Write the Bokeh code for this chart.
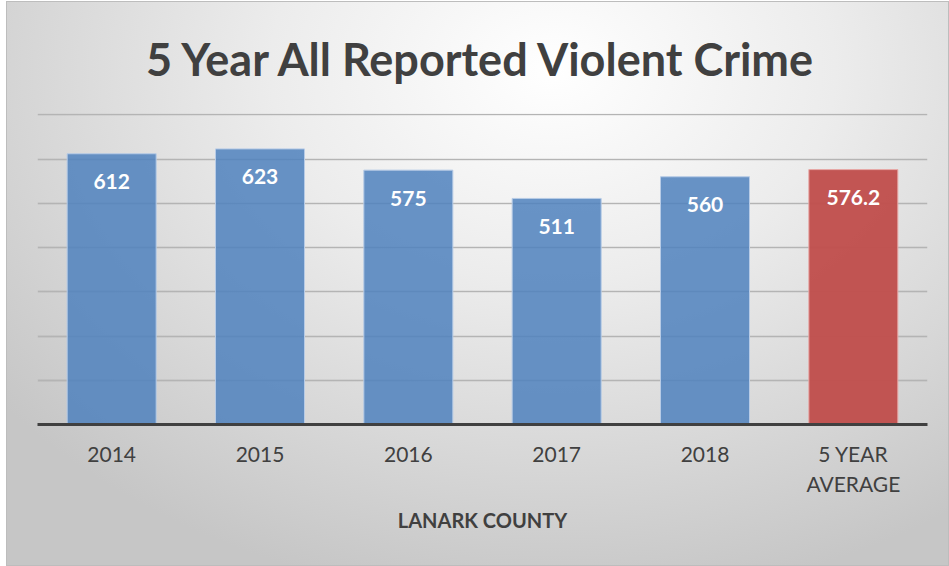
from bokeh.plotting import figure
from bokeh.models import ColumnDataSource, FactorRange, Range1d, LabelSet, Grid, FixedTicker
from bokeh.core.properties import value
from bokeh.embed import file_html
from bokeh.resources import INLINE

title_text = "5 Year All Reported Violent Crime"
categories = ["2014", "2015", "2016", "2017", "2018", "5 YEAR\nAVERAGE"]
values = [612, 623, 575, 511, 560, 576.2]
value_labels = ["612", "623", "575", "511", "560", "576.2"]
colors = ["#4F81BD", "#4F81BD", "#4F81BD", "#4F81BD", "#4F81BD", "#C0504D"]
alphas = [0.85, 0.85, 0.85, 0.85, 0.85, 0.97]
edges = ["#b7cbe6", "#b7cbe6", "#b7cbe6", "#b7cbe6", "#b7cbe6", "#e8a9a7"]
grid_ticks = [100, 200, 300, 400, 500, 600, 700]

source = ColumnDataSource(dict(cat=categories, val=values, lab=value_labels,
                               color=colors, alpha=alphas, edge=edges))

p = figure(width=941, height=563, x_range=FactorRange(factors=categories),
           y_range=Range1d(0, 703), output_backend="svg", toolbar_location=None,
           y_axis_location=None, min_border_left=30, min_border_right=21,
           min_border_top=111, min_border_bottom=141,
           styles={"background": "radial-gradient(ellipse 75% 95% at 58% 12%, #ffffff 0%, #ececec 40%, #d6d6d6 75%, #c6c6c6 100%)",
                   "margin-left": "7px", "margin-top": "2px",
                   "box-shadow": "0 0 0 1px #bdbdbd"})
p.border_fill_alpha = 0
p.background_fill_alpha = 0
p.outline_line_color = None
p.xgrid.grid_line_color = None

p.add_layout(Grid(dimension=1, ticker=FixedTicker(ticks=grid_ticks),
                  grid_line_color="#000000", grid_line_alpha=0.21, grid_line_width=1.3))

p.vbar(x="cat", top="val", width=0.6, source=source, fill_color="color",
       fill_alpha="alpha", line_color="edge", line_width=1)

labels = LabelSet(x="cat", y="val", text="lab", source=source, y_offset=-28,
                  text_align="center", text_baseline="middle", text_color="white",
                  text_font=value("Lato"), text_font_style="bold", text_font_size="21px")
p.add_layout(labels)

p.title.text = title_text
p.title.align = "center"
p.title.text_font = "Lato"
p.title.text_font_style = "bold"
p.title.text_font_size = "45px"
p.title.text_color = "#404040"
p.title.standoff = 55

ax = p.xaxis[0]
ax.axis_line_color = "#404040"
ax.axis_line_width = 3
ax.major_tick_line_color = None
ax.minor_tick_line_color = None
ax.major_label_text_font = "Lato"
ax.major_label_text_font_size = "21px"
ax.major_label_text_color = "#404040"
ax.major_label_standoff = 10
ax.axis_label = "LANARK COUNTY"
ax.axis_label_text_font = "Lato"
ax.axis_label_text_font_style = "bold"
ax.axis_label_text_font_size = "20px"
ax.axis_label_text_color = "#404040"
ax.axis_label_standoff = 9

open("out.html", "w").write(file_html(p, INLINE))
